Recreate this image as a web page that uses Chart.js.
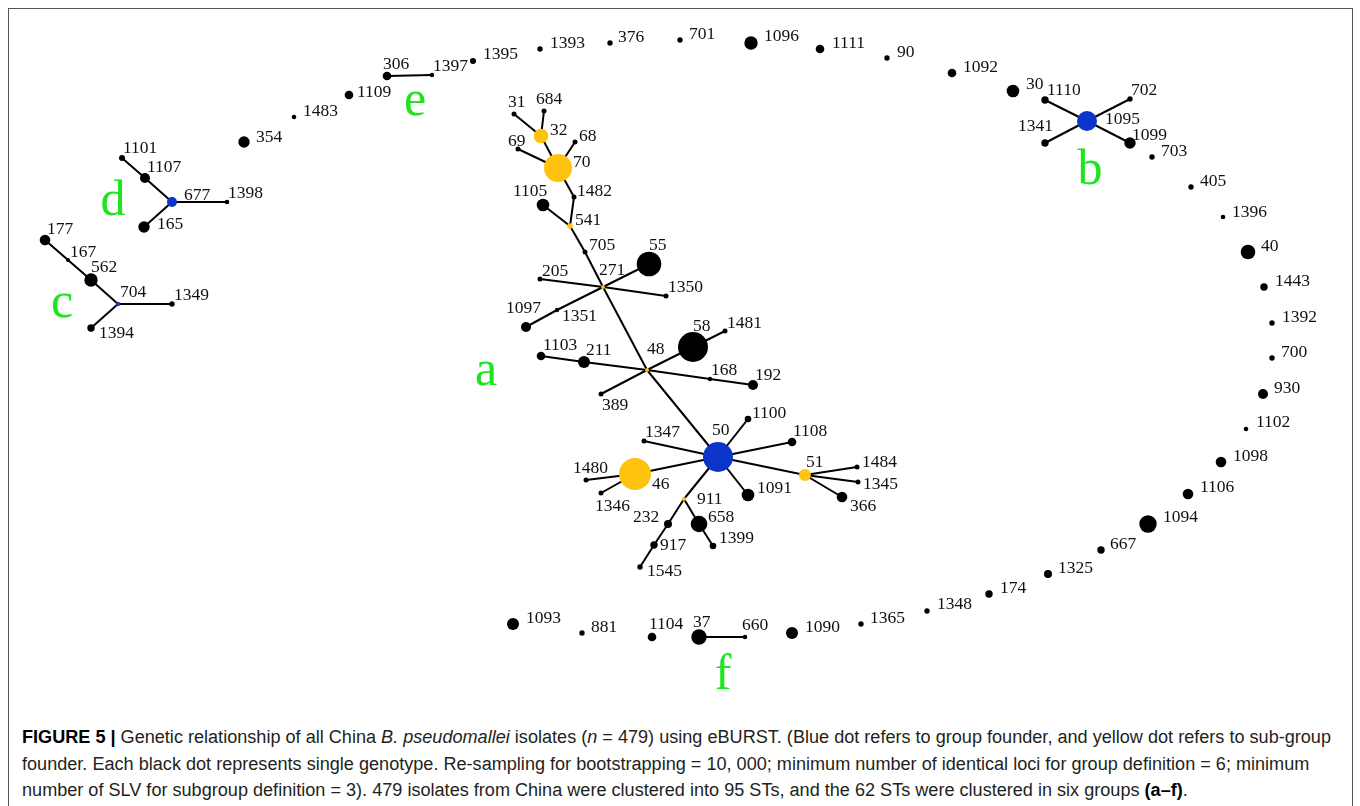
<!DOCTYPE html>
<html>
<head>
<meta charset="utf-8">
<script src="https://cdn.jsdelivr.net/npm/chart.js@4.4.1/dist/chart.umd.min.js"></script>
<style>
  html, body { margin: 0; padding: 0; background: #fff; }
  body { width: 1360px; height: 806px; position: relative; overflow: hidden; }
  #frame { position: absolute; left: 8px; top: 8px; width: 1345px; height: 830px; border: 1px solid #555; box-sizing: border-box; }
  #wrap { position: absolute; left: 9px; top: 9px; width: 1344px; height: 700px; }
  #cap { position: absolute; left: 22px; top: 724px; font-family: "Liberation Sans", Arial, sans-serif; font-size: 18px; line-height: 26.5px; color: #231f20; white-space: nowrap; transform-origin: 0 0; }
  #cap span.l { display: block; }
  #cap b { color: #000; }
  #fontprobe { position: absolute; left: -9999px; top: 0; font-family: "Liberation Serif"; font-size: 17px; }
</style>
</head>
<body>
<div id="frame"></div>
<div id="fontprobe">0123456789 abcdef</div>
<div id="wrap"><canvas id="c"></canvas></div>
<div id="cap">
  <span class="l" id="l1"><b>FIGURE 5 |</b> Genetic relationship of all China <i>B. pseudomallei</i> isolates (<i>n</i> = 479) using eBURST. (Blue dot refers to group founder, and yellow dot refers to sub-group</span>
  <span class="l">founder. Each black dot represents single genotype. Re-sampling for bootstrapping = 10, 000; minimum number of identical loci for group definition = 6; minimum</span>
  <span class="l">number of SLV for subgroup definition = 3). 479 isolates from China were clustered into 95 STs, and the 62 STs were clustered in six groups <b>(a–f)</b>.</span>
</div>
<script>
// ---- Data: sequence types (STs) and their layout positions ----
const nodeIds = [
  '306','1397','1109','1483','354','1101','1107','677','1398','165',
  '177','167','562','704','1349','1394',
  '1395','1393','376','701','1096','1111','90','1092','30',
  '1110','1095','702','1341','1099','703','405','1396','40','1443','1392','700','930','1102','1098','1106','1094',
  '667','1325','174','1348','1365','1090','660','37','1104','881','1093',
  '31','684','32','69','68','70','1482','1105','541','705','55','205','271','1350','1351','1097',
  '1103','211','48','58','1481','168','192','389','50','1100','1347','1108','46','1480','1346',
  '51','1484','1345','366','1091','911','658','1399','232','917','1545'
];
const nodeX = [
  387,432,349,294,244,122,145,172,227,144,
  45,68,91,118,172,91,
  473,540,610,680,751,820,887,952,1013,
  1045,1087,1130,1045,1130,1152,1191,1223,1248,1264,1272,1272,1263,1246,1221,1188,1148,
  1101,1048,989,927,861,792,745,699,652,582,513,
  514,544,541,518,575,558,574,543,570,585,649,540,603,666,557,526,
  541,584,647,693,725,710,753,601,718,748,644,792,635,586,601,
  805,857,858,842,748,684,699,713,668,654,640
];
const nodeY = [
  76,75,95,117,142,158,178,202,202,227,
  240,260,280,304,304,328,
  61,49,43,40,43,49,58,73,91,
  100,121,99,143,143,157,187,217,252,287,323,358,394,429,462,494,524,
  550,574,594,611,624,633,637,637,637,633,624,
  114,111,136,149,142,168,197,205,226,252,264,279,287,296,310,327,
  356,362,370,347,331,379,385,394,457,419,441,442,474,480,493,
  475,467,482,497,495,499,524,546,524,545,567
];
// relative dot size (isolate abundance) as drawn
const nodeSize = [
  4.3,2.2,4.3,2.3,5.7,3,5,5,2.3,5.7,
  5.3,2,6.7,2.2,2.7,3.7,
  3,2.7,2.7,2.7,6.7,4.3,2.7,4.3,6.3,
  3.7,10,2.7,3.7,5.7,2.7,2.7,2.3,7.3,3.7,2.7,2.7,5,2.3,5.3,5.3,8.7,
  3.7,4,3.7,2.7,2.7,6,2.3,7.7,4.3,2.7,6,
  2.5,2.5,7.3,2.5,2.5,14,2.5,6.3,2.7,2.5,12.3,2.5,2,2.5,2.2,5,
  4.3,6,2,15,2.5,2.2,5,2.5,15,3.3,2.5,4.3,16,2.5,2.5,
  6,2.5,2.5,5.3,6.3,2,8.3,3.3,4,3.7,2.7
];
// F = group founder, S = sub-group founder, N = single genotype
const nodeRole = [
  'N','N','N','N','N','N','N','F','N','N',
  'N','N','N','F','N','N',
  'N','N','N','N','N','N','N','N','N',
  'N','F','N','N','N','N','N','N','N','N','N','N','N','N','N','N','N',
  'N','N','N','N','N','N','N','N','N','N','N',
  'N','N','S','N','N','S','N','N','S','N','N','N','S','N','N','N',
  'N','N','S','N','N','N','N','N','F','N','N','N','S','N','N',
  'S','N','N','N','N','S','N','N','N','N','N'
];
const edgeFrom = [
  '31','684','32','69','68','70','1482','1105','541','705','205','271','271','271','1351','271',
  '1103','211','48','58','48','168','48','48','50','50','50','50','46','46','50','51','51','51','50','50','911','232','917','911','658',
  '1095','1095','1095','1095',
  '177','167','562','704','704',
  '1101','1107','677','677',
  '306','37'
];
const edgeTo = [
  '32','32','70','70','70','1482','541','541','705','271','271','55','1350','1351','1097','48',
  '211','48','58','1481','168','192','389','50','1100','1108','1347','46','1480','1346','51','1484','1345','366','1091','911','232','917','1545','658','1399',
  '1110','702','1341','1099',
  '167','562','704','1349','1394',
  '1107','677','1398','165',
  '1397','660'
];
const groupNames = ['a','b','c','d','e','f'];
const groupX = [486,1090,62,113,415,723];
const groupY = [385,184,317,215,115,689];

// ---- Styling (label placement relative to each dot) ----
const labelOffset = {
  '306':[-4,-12],'1397':[1,-9],'1109':[8,-3],'1483':[9,-6],'354':[12,-5],'1101':[1,-10],'1107':[2,-11],
  '677':[12,-7],'1398':[1,-9],'165':[13,-3],'177':[2,-11],'167':[2,-8],'562':[0,-13],'704':[2,-12],
  '1349':[2,-9],'1394':[8,5],'1395':[10,-7],'1393':[10,-6],'376':[8,-6],'701':[9,-6],'1096':[13,-7],
  '1111':[12,-6],'90':[10,-6],'1092':[11,-6],'30':[13,-7],'1110':[2,-10],'1095':[18,-2],'702':[1,-9],
  '1341':[-27,-17],'1099':[2,-8],'703':[9,-6],'405':[9,-6],'1396':[9,-5],'40':[13,-6],'1443':[11,-6],
  '1392':[10,-6],'700':[9,-6],'930':[11,-6],'1102':[10,-7],'1098':[12,-6],'1106':[12,-7],'1094':[15,-7],
  '667':[9,-6],'1325':[10,-6],'174':[11,-6],'1348':[10,-7],'1365':[9,-6],'1090':[13,-6],'660':[-3,-12],
  '37':[-6,-15],'1104':[-3,-13],'881':[9,-6],'1093':[13,-6],
  '31':[-6,-12],'684':[-8,-12],'32':[9,-6],'69':[-10,-8],'68':[4,-6],'70':[15,-6],'1482':[3,-6],
  '1105':[-30,-14],'541':[5,-6],'705':[4,-7],'55':[0,-19],'205':[2,-8],'271':[-4,-17],'1350':[2,-9],
  '1351':[5,6],'1097':[-20,-19],'1103':[2,-11],'211':[2,-12],'48':[0,-21],'58':[0,-21],'1481':[2,-8],
  '168':[1,-9],'192':[2,-10],'389':[1,11],'50':[-6,-27],'1100':[4,-6],'1347':[1,-9],'1108':[1,-11],
  '46':[17,10],'1480':[-13,-12],'1346':[-6,13],'51':[1,-13],'1484':[5,-5],'1345':[5,2],'366':[8,9],
  '1091':[9,-7],'911':[13,0],'658':[9,-7],'1399':[6,-8],'232':[-35,-7],'917':[6,0],'1545':[7,4]
};
const roleColor = { F: '#0a35c8', S: '#ffc20e', N: '#000000' };
const groupColor = '#1fe41f';
const LABEL_FONT = '17.5px "Liberation Serif", "Times New Roman", serif';
const GROUP_FONT = '50px "Liberation Serif", "Times New Roman", serif';

// ---- Build datasets ----
const idx = {};
nodeIds.forEach((id, i) => { idx[id] = i; });

const nodeDataset = {
  type: 'scatter',
  label: 'STs',
  order: 0,
  data: nodeIds.map((id, i) => ({ x: nodeX[i], y: nodeY[i] })),
  pointRadius: nodeSize.slice(),
  pointHoverRadius: nodeSize.slice(),
  pointBackgroundColor: nodeRole.map(r => roleColor[r]),
  pointBorderColor: nodeRole.map(r => roleColor[r]),
  pointBorderWidth: 0,
  showLine: false
};
const edgeDatasets = edgeFrom.map((f, k) => {
  const a = idx[f], b = idx[edgeTo[k]];
  return {
    type: 'line',
    label: 'edge' + k,
    order: 1,
    data: [{ x: nodeX[a], y: nodeY[a] }, { x: nodeX[b], y: nodeY[b] }],
    borderColor: '#000',
    borderWidth: 2,
    pointRadius: 0,
    pointHoverRadius: 0,
    fill: false,
    tension: 0
  };
});

const labelPlugin = {
  id: 'nodeLabels',
  afterDatasetsDraw(chart) {
    const ctx = chart.ctx, xs = chart.scales.x, ys = chart.scales.y;
    ctx.save();
    ctx.font = LABEL_FONT;
    ctx.fillStyle = '#111';
    ctx.textAlign = 'left';
    ctx.textBaseline = 'middle';
    nodeIds.forEach((id, i) => {
      const o = labelOffset[id] || [9, -6];
      ctx.fillText(id, xs.getPixelForValue(nodeX[i]) + o[0], ys.getPixelForValue(nodeY[i]) + o[1]);
    });
    ctx.font = GROUP_FONT;
    ctx.fillStyle = groupColor;
    ctx.textAlign = 'center';
    ctx.textBaseline = 'alphabetic';
    groupNames.forEach((g, i) => {
      ctx.fillText(g, xs.getPixelForValue(groupX[i]), ys.getPixelForValue(groupY[i]));
    });
    ctx.restore();
  }
};

function build() {
  new Chart(document.getElementById('c'), {
    data: { datasets: [nodeDataset].concat(edgeDatasets) },
    options: {
      responsive: true,
      maintainAspectRatio: false,
      animation: false,
      devicePixelRatio: 1,
      layout: { padding: 0, autoPadding: false },
      plugins: { legend: { display: false }, tooltip: { enabled: false }, title: { display: false } },
      events: [],
      scales: {
        x: { type: 'linear', display: false, min: 9, max: 1353 },
        y: { type: 'linear', display: false, reverse: true, min: 9, max: 709 }
      }
    },
    plugins: [labelPlugin]
  });
}

Promise.all([
  document.fonts.load(LABEL_FONT, '0123456789'),
  document.fonts.load(GROUP_FONT, 'abcdef')
]).catch(() => {}).then(build);

// fit caption to the reference line width
(function () {
  const l1 = document.getElementById('l1');
  const r = document.createRange(); r.selectNodeContents(l1);
  const w = r.getBoundingClientRect().width;
  if (w > 0) document.getElementById('cap').style.transform = 'scaleX(' + (1309 / w) + ')';
})();
</script>
</body>
</html>
